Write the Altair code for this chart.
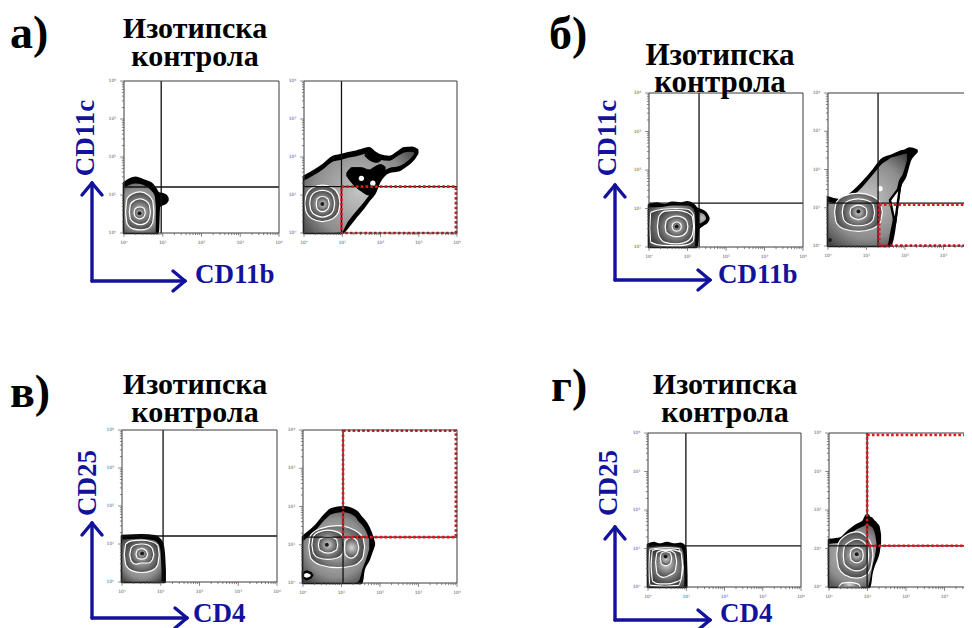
import altair as alt
import pandas as pd
import numpy as np

# ------------------------------------------------------------------ data
# all blob / gate / threshold values are in log10 fluorescence units (decades)
DECADES = [0, 1, 2, 3, 4]
DECADE_LABELS = ["10⁰", "10¹", "10²", "10³", "10⁴"]
MINOR_STEPS = [2, 3, 4, 5, 6, 7, 8, 9]

PANEL_LETTERS = ["а)", "б)", "в)", "г)"]
TITLE_LINES = ["Изотипска", "контрола"]
X_LABELS = ["CD11b", "CD11b", "CD4", "CD4"]
Y_LABELS = ["CD11c", "CD11c", "CD25", "CD25"]

# quadrant thresholds (x, y)
QUAD = {
    "a1": (0.96, 1.21), "a2": (0.98, 1.22),
    "b1": (1.30, 1.14), "b2": (1.30, 1.12),
    "c1": (1.06, 1.21), "c2": (1.04, 1.20),
    "d1": (0.99, 1.07), "d2": (0.99, 1.07),
}
# gates (x0, x1, y0, y1)
GATES = {
    "a2": (0.98, 3.97, 0.0, 1.22),
    "b2": (1.33, 3.97, 0.01, 1.08),
    "c2": (1.04, 3.97, 1.20, 3.98),
    "d2": (0.99, 3.97, 1.07, 3.95),
}

# contour polygons: (x, y_low, y_high)
OUTER = {
    "a1": [[(0, 0, 1.31), (0.15, 0, 1.41), (0.3, 0, 1.45), (0.5, 0, 1.38), (0.7, 0, 1.3), (0.8, 0, 1.18),
            (0.87, 0, 1.06), (0.9, 0.7, 1.04), (1.0, 0.76, 1.02), (1.08, 0.8, 0.98), (1.12, 0.86, 0.92)]],
    "a2": [[(0, 0, 1.48), (0.5, 0, 1.79), (0.76, 0, 2.0), (0.98, 0, 2.05), (1.15, 0.17, 2.1), (1.37, 0.45, 2.14),
            (1.5, 0.6, 2.18), (1.71, 0.88, 2.23), (1.84, 1.04, 2.12), (1.97, 1.35, 2.05), (2.23, 1.61, 2.0),
            (2.49, 1.66, 2.15), (2.62, 1.74, 2.23), (2.84, 1.92, 2.24), (2.96, 2.1, 2.18)]],
    "b1": [[(0, 0, 1.09), (0.2, 0, 1.13), (0.4, 0, 1.08), (0.6, 0, 1.15), (0.8, 0, 1.13), (1.0, 0, 1.16),
            (1.15, 0, 1.1), (1.24, 0, 1.0), (1.28, 0.48, 0.98), (1.4, 0.58, 0.93), (1.5, 0.65, 0.84),
            (1.54, 0.72, 0.76)]],
    "b2": [[(0, 0, 1.27), (0.31, 0, 1.2), (0.66, 0, 1.42), (0.96, 0, 1.72), (1.18, 0, 1.98), (1.39, 0, 2.25),
            (1.61, 0, 2.35), (1.7, 0.32, 2.38), (1.74, 0.59, 2.4), (1.87, 1.55, 2.46), (2.0, 1.81, 2.49),
            (2.13, 2.25, 2.55), (2.22, 2.38, 2.53), (2.3, 2.47, 2.5)]],
    "c1": [[(0, 0, 1.21), (0.5, 0, 1.23), (0.85, 0, 1.2), (0.97, 0, 1.12), (1.04, 0, 1.0), (1.08, 0, 0.7),
            (1.1, 0, 0.3)]],
    "c2": [[(0, 0, 1.21), (0.31, 0, 1.47), (0.57, 0, 1.78), (0.74, 0, 1.93), (1.05, 0, 1.98), (1.39, 0, 1.86),
            (1.52, 0, 1.7), (1.57, 0.34, 1.65), (1.7, 0.6, 1.45), (1.78, 0.82, 1.25), (1.84, 1.0, 1.05)]],
    "d1": [[(0, 0, 1.1), (0.15, 0, 1.14), (0.3, 0, 1.1), (0.5, 0, 1.14), (0.7, 0, 1.1), (0.85, 0, 1.12),
            (0.95, 0, 1.06), (0.98, 0, 0.9), (1.0, 0, 0.3)]],
    "d2": [[(0, 0, 1.22), (0.29, 0, 1.26), (0.5, 0, 1.44), (0.72, 0, 1.61), (0.89, 0, 1.7), (0.97, 0, 1.85),
            (1.0, 0, 1.87), (1.05, 0, 1.8), (1.1, 0.35, 1.78), (1.15, 0.53, 1.72), (1.22, 0.7, 1.65),
            (1.28, 0.88, 1.57), (1.32, 1.15, 1.35)]],
}
INNER = {
    "a1": [[(0, 0, 1.2), (0.3, 0, 1.3), (0.55, 0, 1.24), (0.7, 0, 1.12), (0.79, 0, 0.98), (0.82, 0.02, 0.7)]],
    "a2": [[(0, 0, 1.38), (0.5, 0, 1.68), (0.76, 0, 1.88), (0.98, 0.02, 1.93), (1.15, 0.3, 1.98),
            (1.37, 0.58, 2.02), (1.5, 0.73, 2.06), (1.71, 1.0, 2.1), (1.84, 1.18, 2.0), (1.97, 1.47, 1.93),
            (2.23, 1.71, 1.9), (2.49, 1.76, 2.05), (2.62, 1.83, 2.12), (2.8, 1.98, 2.14), (2.88, 2.08, 2.12)]],
    "b1": [[(0, 0, 1.03), (0.3, 0, 1.04), (0.6, 0, 1.08), (1.0, 0, 1.08), (1.15, 0, 1.0), (1.2, 0.02, 0.85)],
           [(1.3, 0.6, 0.9), (1.42, 0.66, 0.86), (1.48, 0.72, 0.78)]],
    "b2": [[(0, 0, 1.16), (0.31, 0, 1.1), (0.66, 0, 1.32), (0.96, 0, 1.62), (1.18, 0, 1.88), (1.39, 0, 2.14),
            (1.55, 0.04, 2.25), (1.62, 0.38, 2.3), (1.67, 0.62, 2.32), (1.82, 1.62, 2.36), (1.95, 1.9, 2.4),
            (2.05, 2.24, 2.42)]],
    "c1": [[(0, 0, 1.12), (0.5, 0, 1.14), (0.82, 0, 1.1), (0.93, 0, 1.02), (0.99, 0, 0.85), (1.02, 0, 0.3)]],
    "c2": [[(0, 0, 1.1), (0.31, 0, 1.36), (0.57, 0, 1.66), (0.74, 0, 1.8), (1.05, 0, 1.85), (1.35, 0, 1.74),
            (1.45, 0.05, 1.6), (1.55, 0.38, 1.5), (1.65, 0.65, 1.33), (1.72, 0.88, 1.13)]],
    "d1": [[(0, 0, 1.04), (0.5, 0, 1.07), (0.85, 0, 1.03), (0.92, 0, 0.9), (0.95, 0, 0.3)]],
    "d2": [[(0, 0, 1.12), (0.29, 0, 1.16), (0.5, 0, 1.33), (0.72, 0, 1.5), (0.89, 0, 1.58), (1.0, 0, 1.62),
            (1.05, 0.12, 1.6), (1.12, 0.5, 1.55), (1.2, 0.85, 1.35), (1.23, 1.05, 1.15)]],
}
PATCHES = {
    "a2": [[(1.12, 1.5, 1.58), (1.25, 1.32, 1.72), (1.5, 1.1, 1.72), (1.7, 1.0, 1.66), (1.85, 1.18, 1.74),
            (2.0, 1.42, 1.8), (2.12, 1.62, 1.74)],
           [(1.6, 2.02, 2.18), (1.75, 1.9, 2.2), (1.9, 1.86, 2.08), (2.0, 1.9, 2.0)]],
}
NOTCHES = {
    "b2": [[(1.61, 1.2, 1.2), (1.74, 0.59, 1.375), (1.87, 1.55, 1.55)]],
    "c2": [[(0.0, 0.14, 0.26), (0.1, 0.1, 0.3), (0.2, 0.14, 0.26), (0.24, 0.2, 0.2)]],
}
RINGS = {
    "a1": [[(0.04, 0.55, 0.55), (0.08, 0.25, 0.9), (0.2, 0.12, 1.02), (0.42, 0.08, 1.08), (0.62, 0.12, 1.0),
            (0.74, 0.28, 0.85), (0.77, 0.55, 0.55)],
           [(0.14, 0.55, 0.55), (0.17, 0.36, 0.76), (0.28, 0.26, 0.86), (0.42, 0.22, 0.9), (0.56, 0.26, 0.85),
            (0.65, 0.38, 0.74), (0.68, 0.55, 0.55)],
           [(0.26, 0.53, 0.53), (0.29, 0.43, 0.64), (0.4, 0.37, 0.69), (0.51, 0.42, 0.65), (0.55, 0.53, 0.53)]],
    "a2": [[(0.02, 0.78, 0.78), (0.06, 0.55, 1.0), (0.2, 0.38, 1.18), (0.48, 0.3, 1.26), (0.76, 0.38, 1.18),
            (0.9, 0.55, 1.0), (0.94, 0.78, 0.78)],
           [(0.15, 0.78, 0.78), (0.18, 0.6, 0.95), (0.3, 0.47, 1.08), (0.48, 0.42, 1.12), (0.66, 0.47, 1.08),
            (0.77, 0.6, 0.95), (0.8, 0.78, 0.78)],
           [(0.32, 0.76, 0.76), (0.35, 0.63, 0.9), (0.48, 0.56, 0.96), (0.62, 0.63, 0.9), (0.66, 0.76, 0.76)]],
    "b1": [[(0.02, 0.5, 0.5), (0.05, 0.12, 0.9), (0.35, 0.04, 0.98), (0.72, 0.03, 1.0), (1.0, 0.06, 0.98),
            (1.15, 0.15, 0.85), (1.18, 0.5, 0.5)],
           [(0.22, 0.53, 0.53), (0.26, 0.28, 0.8), (0.42, 0.12, 0.93), (0.72, 0.08, 0.95), (0.98, 0.14, 0.9),
            (1.12, 0.3, 0.8), (1.16, 0.53, 0.53)],
           [(0.42, 0.53, 0.53), (0.45, 0.38, 0.68), (0.57, 0.3, 0.77), (0.72, 0.27, 0.8), (0.87, 0.3, 0.77),
            (0.98, 0.4, 0.67), (1.01, 0.53, 0.53)],
           [(0.6, 0.53, 0.53), (0.63, 0.45, 0.61), (0.72, 0.41, 0.65), (0.81, 0.45, 0.61), (0.84, 0.53, 0.53)]],
    "b2": [[(0.17, 0.88, 0.88), (0.22, 0.6, 1.15), (0.4, 0.45, 1.3), (0.79, 0.38, 1.38), (1.15, 0.45, 1.3),
            (1.35, 0.6, 1.15), (1.41, 0.88, 0.88)],
           [(0.37, 0.88, 0.88), (0.41, 0.68, 1.08), (0.55, 0.57, 1.19), (0.79, 0.53, 1.23), (1.03, 0.57, 1.19),
            (1.17, 0.68, 1.08), (1.21, 0.88, 0.88)],
           [(0.57, 0.88, 0.88), (0.6, 0.77, 0.99), (0.79, 0.69, 1.07), (0.98, 0.77, 0.99), (1.01, 0.88, 0.88)]],
    "c1": [[(0.06, 0.72, 0.72), (0.1, 0.45, 1.0), (0.25, 0.3, 1.08), (0.51, 0.25, 1.1), (0.77, 0.3, 1.06),
            (0.92, 0.45, 0.97), (0.96, 0.72, 0.72)],
           [(0.2, 0.72, 0.72), (0.24, 0.55, 0.9), (0.35, 0.47, 0.98), (0.51, 0.5, 1.0), (0.68, 0.5, 0.97),
            (0.78, 0.58, 0.88), (0.82, 0.72, 0.72)],
           [(0.36, 0.73, 0.73), (0.4, 0.63, 0.84), (0.51, 0.6, 0.88), (0.62, 0.64, 0.83), (0.66, 0.73, 0.73)]],
    "c2": [[(0.15, 0.95, 0.95), (0.2, 0.65, 1.25), (0.45, 0.47, 1.42), (0.9, 0.4, 1.5), (1.3, 0.45, 1.4),
            (1.55, 0.65, 1.2), (1.6, 0.95, 0.95)],
           [(0.23, 1.0, 1.0), (0.27, 0.78, 1.22), (0.4, 0.66, 1.33), (0.65, 0.62, 1.38), (0.9, 0.66, 1.33),
            (1.03, 0.78, 1.22), (1.07, 1.0, 1.0)],
           [(1.08, 0.92, 0.92), (1.1, 0.75, 1.1), (1.25, 0.65, 1.2), (1.4, 0.75, 1.1), (1.45, 0.92, 0.92)],
           [(0.4, 1.0, 1.0), (0.43, 0.86, 1.14), (0.65, 0.78, 1.22), (0.87, 0.86, 1.14), (0.9, 1.0, 1.0)]],
    "d1": [[(0.02, 0.5, 0.5), (0.05, 0.05, 0.98), (0.45, 0.02, 1.02), (0.8, 0.04, 1.0), (0.92, 0.5, 0.5)],
           [(0.08, 0.55, 0.55), (0.12, 0.15, 0.95), (0.3, 0.08, 0.98), (0.5, 0.08, 0.98), (0.7, 0.12, 0.96),
            (0.86, 0.2, 0.9), (0.9, 0.55, 0.55)],
           [(0.2, 0.65, 0.65), (0.24, 0.35, 0.9), (0.4, 0.25, 0.95), (0.55, 0.3, 0.95), (0.7, 0.4, 0.88),
            (0.75, 0.65, 0.65)],
           [(0.32, 0.75, 0.75), (0.35, 0.6, 0.88), (0.46, 0.55, 0.92), (0.58, 0.6, 0.88), (0.62, 0.75, 0.75)]],
    "d2": [[(0.2, 0.83, 0.83), (0.25, 0.5, 1.15), (0.4, 0.32, 1.32), (0.72, 0.23, 1.43), (0.98, 0.32, 1.3),
            (1.1, 0.55, 1.1), (1.14, 0.83, 0.83)],
           [(0.37, 0.83, 0.83), (0.4, 0.6, 1.05), (0.55, 0.47, 1.18), (0.72, 0.42, 1.24), (0.89, 0.47, 1.18),
            (1.0, 0.6, 1.05), (1.03, 0.83, 0.83)],
           [(0.55, 0.83, 0.83), (0.58, 0.7, 0.96), (0.72, 0.63, 1.03), (0.86, 0.7, 0.96), (0.89, 0.83, 0.83)],
           [(0.25, 0.0, 0.0), (0.35, 0.0, 0.1), (0.55, 0.0, 0.12), (0.75, 0.0, 0.08), (0.82, 0.0, 0.0)]],
}
HOLES = {"a2": [(1.5, 1.44), (1.8, 1.31)], "b2": [(1.35, 1.5)]}
CENTERS = {
    "a1": [(0.4, 0.52)], "a2": [(0.48, 0.76)], "b1": [(0.72, 0.53)], "b2": [(0.79, 0.9), (0.05, 0.16)],
    "c1": [(0.52, 0.75)], "c2": [(0.62, 1.0)], "d1": [(0.46, 0.79)], "d2": [(0.72, 0.85)],
}

# ------------------------------------------------------------------ layout (chart pixels)
SUBPLOT_RANGES = {
    "a1": ([116, 271], [225, 73]), "a2": ([296, 449], [225, 73]),
    "b1": ([641, 795], [239, 85]), "b2": ([820, 974], [238, 85]),
    "c1": ([114, 269], [574, 422]), "c2": ([295, 449], [575, 422]),
    "d1": ([640, 793], [579, 425]), "d2": ([821, 975], [579, 425]),
}
PANEL_POS = [
    dict(letter=(2, 40), title=(187, 30, 58), tsize=30, ytxt=(78, 130), xtxt=(187, 275), corner=(84, 273), vtip=175, htip=177),
    dict(letter=(541, 41), title=(712, 57, 84), tsize=31, ytxt=(600, 130), xtxt=(710, 275), corner=(607, 272), vtip=177, htip=702),
    dict(letter=(2, 399), title=(187, 386, 414), tsize=30, ytxt=(80, 475), xtxt=(185, 614), corner=(84, 610), vtip=515, htip=179),
    dict(letter=(543, 393), title=(717, 386, 414), tsize=30, ytxt=(601, 475), xtxt=(712, 614), corner=(607, 612), vtip=519, htip=702),
]

FONT = "Liberation Serif"
BLUE = "#12129c"
GRAY_FILL = {"gradient": "radial", "x1": 0.5, "y1": 0.5, "r1": 0, "x2": 0.5, "y2": 0.5, "r2": 0.7,
             "stops": [{"offset": 0, "color": "#c4c4c4"}, {"offset": 0.6, "color": "#8c8c8c"},
                       {"offset": 1, "color": "#2e2e2e"}]}
RING_FILL = {"gradient": "radial", "x1": 0.5, "y1": 0.5, "r1": 0, "x2": 0.5, "y2": 0.5, "r2": 0.62,
             "stops": [{"offset": 0, "color": "#d6d6d6"}, {"offset": 1, "color": "#262626"}]}


def poly_df(polys):
    rows = []
    for i, pts in enumerate(polys):
        for (x, lo, hi) in pts:
            rows.append({"ring": f"r{i:02d}", "x": x, "lo": lo, "hi": hi})
    return pd.DataFrame(rows)


def subplot(name):
    xr, yr = SUBPLOT_RANGES[name]
    xs = alt.Scale(domain=[DECADES[0], DECADES[-1]], range=xr, nice=False, zero=False)
    ys = alt.Scale(domain=[DECADES[0], DECADES[-1]], range=yr, nice=False, zero=False)

    def X(f):
        return alt.X(f, type="quantitative", scale=xs, axis=None)

    def Y(f):
        return alt.Y(f, type="quantitative", scale=ys, axis=None)

    layers = []

    def area(polys, interp="monotone", **style):
        return alt.Chart(poly_df(polys)).mark_area(orient="vertical", interpolate=interp, clip=False, **style).encode(
            x=X("x"), y=Y("lo"), y2="hi", detail="ring:N")

    layers.append(area(OUTER[name], fill="#000000", stroke="#000000", strokeWidth=2.6, strokeJoin="round"))
    layers.append(area(INNER[name], fill=GRAY_FILL, strokeOpacity=0))
    if name in PATCHES:
        layers.append(area(PATCHES[name], fill="#000000", stroke="#000000", strokeWidth=1))
    if name in NOTCHES:
        layers.append(area(NOTCHES[name], interp="linear", fill="#ffffff", stroke="#000000", strokeWidth=2.4))
    layers.append(area(RINGS[name], fill=RING_FILL, stroke="#ffffff", strokeWidth=1.2))
    if name in HOLES:
        hd = pd.DataFrame(HOLES[name], columns=["x", "y"])
        layers.append(alt.Chart(hd).mark_circle(color="#ffffff", opacity=1, size=28).encode(x=X("x"), y=Y("y")))
    cd = pd.DataFrame(CENTERS[name], columns=["x", "y"])
    layers.append(alt.Chart(cd).mark_circle(color="#1a1a1a", opacity=1, size=16).encode(x=X("x"), y=Y("y")))

    qx, qy = QUAD[name]
    qd = pd.DataFrame({"qx": [qx], "qy": [qy], "lo": [DECADES[0]], "hi": [DECADES[-1]]})
    layers.append(alt.Chart(qd).mark_rule(color="#111111", strokeWidth=1.3).encode(x=X("qx"), y=Y("lo"), y2="hi"))
    layers.append(alt.Chart(qd).mark_rule(color="#111111", strokeWidth=1.3).encode(y=Y("qy"), x=X("lo"), x2="hi"))

    if name in GATES:
        g = GATES[name]
        gd = pd.DataFrame({"x0": [g[0]], "x1": [g[1]], "y0": [g[2]], "y1": [g[3]]})
        layers.append(alt.Chart(gd).mark_rect(fillOpacity=0, stroke="#e3161b", strokeWidth=2.6,
                                              strokeDash=[2.6, 2.2]).encode(x=X("x0"), x2="x1", y=Y("y0"), y2="y1"))

    fd = pd.DataFrame({"x0": [DECADES[0]], "x1": [DECADES[-1]], "y0": [DECADES[0]], "y1": [DECADES[-1]]})
    layers.append(alt.Chart(fd).mark_rect(fillOpacity=0, stroke="#3a3a3a", strokeWidth=1).encode(
        x=X("x0"), x2="x1", y=Y("y0"), y2="y1"))

    # ticks
    major = [float(d) for d in DECADES]
    minor = [d + float(np.log10(m)) for d in DECADES[:-1] for m in MINOR_STEPS]
    td = pd.DataFrame({"pos": major + minor,
                       "tip": [-0.1] * len(major) + [-0.055] * len(minor),
                       "base": [0.0] * (len(major) + len(minor))})
    layers.append(alt.Chart(td).mark_rule(color="#555555", strokeWidth=0.7).encode(x=X("pos"), y=Y("base"), y2="tip"))
    layers.append(alt.Chart(td).mark_rule(color="#555555", strokeWidth=0.7).encode(y=Y("pos"), x=X("base"), x2="tip"))
    ld = pd.DataFrame({"pos": DECADES, "lab": DECADE_LABELS, "off_x": [-0.27] * 5, "off_y": [-0.3] * 5})
    layers.append(alt.Chart(ld).mark_text(fontSize=4.5, color="#555555", font="DejaVu Sans").encode(
        x=X("pos"), y=Y("off_x"), text="lab:N"))
    layers.append(alt.Chart(ld).mark_text(fontSize=4.5, color="#555555", font="DejaVu Sans").encode(
        x=X("off_y"), y=Y("pos"), text="lab:N"))
    return alt.layer(*layers)


def text(s, x, y, size, color="#000000", angle=0, align="left", baseline="alphabetic"):
    return alt.Chart(pd.DataFrame({"t": [s]})).mark_text(
        font=FONT, fontWeight="bold", fontSize=size, color=color, angle=angle, align=align, baseline=baseline
    ).encode(x=alt.value(x), y=alt.value(y), text="t:N")


def seg(x1, y1, x2, y2):
    return alt.Chart(pd.DataFrame({"k": [0]})).mark_rule(color=BLUE, strokeWidth=3.4, strokeCap="round").encode(
        x=alt.value(x1), y=alt.value(y1), x2=alt.value(x2), y2=alt.value(y2))


annotations = []
for i, p in enumerate(PANEL_POS):
    annotations.append(text(PANEL_LETTERS[i], p["letter"][0], p["letter"][1], 46))
    tx, b1, b2 = p["title"]
    annotations.append(text(TITLE_LINES[0], tx, b1, p["tsize"], align="center"))
    annotations.append(text(TITLE_LINES[1], tx, b2, p["tsize"], align="center"))
    annotations.append(text(Y_LABELS[i], p["ytxt"][0], p["ytxt"][1], 27, BLUE, angle=270, align="center",
                            baseline="middle"))
    annotations.append(text(X_LABELS[i], p["xtxt"][0], p["xtxt"][1], 27, BLUE))
    cx, cy = p["corner"]
    annotations.append(seg(cx, cy, cx, p["vtip"]))
    annotations.append(seg(cx, cy, p["htip"], cy))
    annotations.append(seg(cx - 10, p["vtip"] + 12, cx, p["vtip"]))
    annotations.append(seg(cx + 10, p["vtip"] + 12, cx, p["vtip"]))
    annotations.append(seg(p["htip"] - 12, cy - 10, p["htip"], cy))
    annotations.append(seg(p["htip"] - 12, cy + 10, p["htip"], cy))

subplots = [subplot(n) for n in SUBPLOT_RANGES]

chart = alt.layer(*subplots, *annotations).resolve_scale(x="independent", y="independent").properties(
    width=956, height=620, autosize=alt.AutoSizeParams(type="none"), padding=0, background="white"
).configure_view(stroke=None)

chart.save("out.html", embed_options={"renderer": "svg", "actions": False})
